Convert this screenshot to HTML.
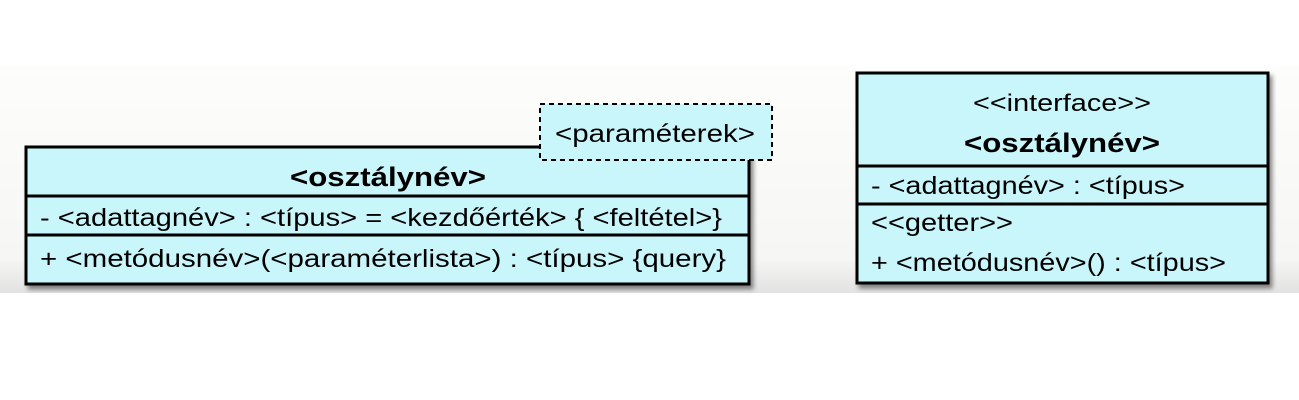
<!DOCTYPE html>
<html><head><meta charset="utf-8"><style>
html,body{margin:0;padding:0;background:#fff;}
svg{display:block;}
text{font-family:"Liberation Sans",sans-serif;fill:#000;}
</style></head><body>
<svg width="1299" height="400" viewBox="0 0 1299 400" xmlns="http://www.w3.org/2000/svg">
<defs>
<linearGradient id="bg" x1="0" y1="0" x2="0" y2="1">
<stop offset="0" stop-color="#fdfdfb"/><stop offset="0.85" stop-color="#f6f6f4"/><stop offset="1" stop-color="#e2e2e2"/>
</linearGradient>
<filter id="sh" x="-5%" y="-5%" width="110%" height="120%"><feDropShadow dx="3" dy="4" stdDeviation="2.5" flood-color="#000" flood-opacity="0.45"/></filter>
</defs>
<rect x="0" y="66" width="1299" height="227" fill="url(#bg)"/>
<rect x="26" y="147" width="723" height="137" fill="#c9f6fb" stroke="#000" stroke-width="3" filter="url(#sh)"/>
<line x1="26" y1="196" x2="749" y2="196" stroke="#000" stroke-width="3"/>
<line x1="26" y1="235" x2="749" y2="235" stroke="#000" stroke-width="3"/>
<text x="388" y="186" font-size="27" font-weight="bold" text-anchor="middle" textLength="196" lengthAdjust="spacingAndGlyphs">&lt;osztálynév&gt;</text>
<text x="40" y="226" font-size="25" textLength="682" lengthAdjust="spacingAndGlyphs">- &lt;adattagnév&gt; : &lt;típus&gt; = &lt;kezdőérték&gt; { &lt;feltétel&gt;}</text>
<text x="40" y="267" font-size="25" textLength="686" lengthAdjust="spacingAndGlyphs">+ &lt;metódusnév&gt;(&lt;paraméterlista&gt;) : &lt;típus&gt;  {query}</text>
<rect x="540" y="104" width="232" height="56" fill="#c9f6fb" stroke="#000" stroke-width="2" stroke-dasharray="5,4"/>
<text x="555" y="142" font-size="25" textLength="200" lengthAdjust="spacingAndGlyphs">&lt;paraméterek&gt;</text>
<rect x="857" y="73" width="411" height="210" fill="#c9f6fb" stroke="#000" stroke-width="3" filter="url(#sh)"/>
<line x1="857" y1="166" x2="1268" y2="166" stroke="#000" stroke-width="3"/>
<line x1="857" y1="204" x2="1268" y2="204" stroke="#000" stroke-width="3"/>
<text x="1062" y="111" font-size="24" text-anchor="middle" textLength="178" lengthAdjust="spacingAndGlyphs">&lt;&lt;interface&gt;&gt;</text>
<text x="1062" y="152" font-size="27" font-weight="bold" text-anchor="middle" textLength="196" lengthAdjust="spacingAndGlyphs">&lt;osztálynév&gt;</text>
<text x="871" y="194" font-size="25" textLength="314" lengthAdjust="spacingAndGlyphs">- &lt;adattagnév&gt; : &lt;típus&gt;</text>
<text x="871" y="231" font-size="25" textLength="142" lengthAdjust="spacingAndGlyphs">&lt;&lt;getter&gt;&gt;</text>
<text x="871" y="271" font-size="25" textLength="355" lengthAdjust="spacingAndGlyphs">+ &lt;metódusnév&gt;() : &lt;típus&gt;</text>
</svg>
</body></html>
